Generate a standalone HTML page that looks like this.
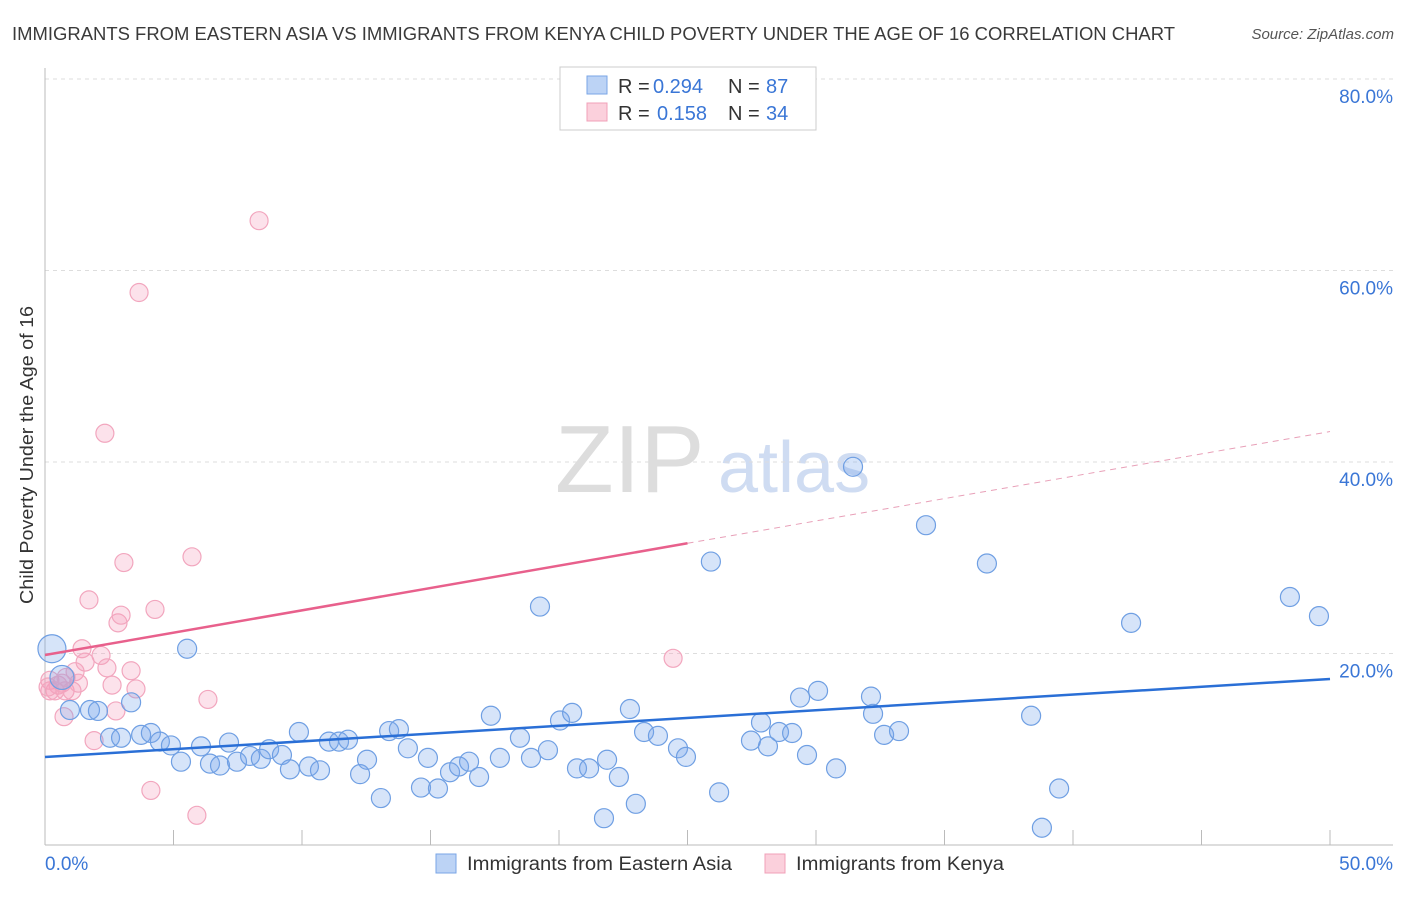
<!DOCTYPE html>
<html><head><meta charset="utf-8"><style>
body{margin:0;background:#fff;font-family:"Liberation Sans",sans-serif;}
svg text{font-family:"Liberation Sans",sans-serif;}
</style></head><body>
<svg width="1406" height="892" xmlns="http://www.w3.org/2000/svg" id="chart">
<text x="12" y="40" font-size="18" fill="#3a3a3a" textLength="1163" lengthAdjust="spacingAndGlyphs">IMMIGRANTS FROM EASTERN ASIA VS IMMIGRANTS FROM KENYA CHILD POVERTY UNDER THE AGE OF 16 CORRELATION CHART</text>
<text x="1394" y="39" font-size="15" fill="#555" text-anchor="end" font-style="italic">Source: ZipAtlas.com</text>
<text x="33" y="455" font-size="18" fill="#333" text-anchor="middle" textLength="298" lengthAdjust="spacingAndGlyphs" transform="rotate(-90 33 455)">Child Poverty Under the Age of 16</text>
<text x="555" y="492" font-size="96" fill="#ddd" font-family="Liberation Serif">ZIP</text>
<text x="718" y="492" font-size="72" fill="#cfdcf2">atlas</text>
<g id="grid"></g><g id="pts"></g><g id="lines"></g>
<g>
<rect x="560" y="67" width="256" height="63" fill="#fff" stroke="#ccc"/>
<rect x="587" y="76" width="20" height="18" fill="#bcd3f5" stroke="#7aa6e6"/>
<rect x="587" y="103" width="20" height="18" fill="#fbd0dc" stroke="#f0a0b8"/>
<text x="618" y="93" font-size="20" fill="#333">R = <tspan x="653" fill="#3a76d6">0.294</tspan></text>
<text x="728" y="93" font-size="20" fill="#333">N = <tspan x="766" fill="#3a76d6">87</tspan></text>
<text x="618" y="120" font-size="20" fill="#333">R = <tspan x="657" fill="#3a76d6">0.158</tspan></text>
<text x="728" y="120" font-size="20" fill="#333">N = <tspan x="766" fill="#3a76d6">34</tspan></text>
</g>
<g>
<rect x="436" y="854" width="20" height="19" fill="#bcd3f5" stroke="#7aa6e6"/>
<text x="467" y="870" font-size="19" fill="#333" textLength="265" lengthAdjust="spacingAndGlyphs">Immigrants from Eastern Asia</text>
<rect x="765" y="854" width="20" height="19" fill="#fbd0dc" stroke="#f0a0b8"/>
<text x="796" y="870" font-size="19" fill="#333" textLength="208" lengthAdjust="spacingAndGlyphs">Immigrants from Kenya</text>
</g>
</svg>
<script>
const yTicks=[20,40,60,80];
const xTickLabels=["0.0%","50.0%"];
const blueX=[0.27,0.66,0.97,1.75,2.06,2.53,2.96,3.35,3.74,4.12,4.47,4.90,5.29,5.53,6.07,6.42,6.81,7.16,7.47,7.98,8.40,8.72,9.22,9.53,9.88,10.27,10.70,11.05,11.44,11.79,12.26,12.53,13.07,13.39,13.77,14.12,14.63,14.90,15.29,15.76,16.11,16.50,16.89,17.35,17.70,18.48,18.91,19.26,19.57,20.04,20.51,20.70,21.17,21.75,21.87,22.33,22.76,22.99,23.31,23.85,24.63,24.94,25.91,26.23,27.47,27.86,28.13,28.56,29.07,29.38,29.65,30.08,30.78,31.44,32.14,32.22,32.65,33.23,34.28,36.65,38.37,38.79,39.46,42.26,48.44,49.57];
const blueY=[20.5,17.5,14.1,14.1,14.0,11.2,11.2,14.9,11.5,11.7,10.8,10.4,8.7,20.5,10.3,8.5,8.3,10.7,8.7,9.3,9.0,10.0,9.4,7.9,11.8,8.2,7.8,10.8,10.8,11.0,7.4,8.9,4.9,11.9,12.1,10.1,6.0,9.1,5.9,7.6,8.2,8.7,7.1,13.5,9.1,11.2,9.1,24.9,9.9,13.0,13.8,8.0,8.0,2.8,8.9,7.1,14.2,4.3,11.8,11.4,10.1,9.2,29.6,5.5,10.9,12.8,10.3,11.8,11.7,15.4,9.4,16.1,8.0,39.5,15.5,13.7,11.5,11.9,33.4,29.4,13.5,1.8,5.9,23.2,25.9,23.9];
const pinkX=[0.19,0.39,0.51,0.66,0.78,0.74,1.05,1.17,1.44,1.56,1.71,1.91,2.18,2.33,2.41,2.61,2.76,2.84,2.96,3.07,3.35,3.54,3.66,4.12,4.28,5.72,5.91,6.34,8.33,24.44,0.19,0.82,0.12,1.30];
const pinkY=[17.2,16.1,16.7,16.9,16.1,13.4,16.1,18.1,20.5,19.1,25.6,10.9,19.8,43.0,18.5,16.7,14.0,23.2,24.0,29.5,18.2,16.3,57.7,5.7,24.6,30.1,3.1,15.2,65.2,19.5,16.1,17.5,16.5,16.9];
const blueLine=[9.19,17.34];
const pinkLine=[19.84,43.18];
const pinkSolidEnd=25.0;
const NS="http://www.w3.org/2000/svg";
const X=v=>45+v*25.7, Y=v=>845-v*9.575;
function mk(t,a,p){const e=document.createElementNS(NS,t);for(const k in a)e.setAttribute(k,a[k]);p.appendChild(e);return e;}
const g=document.getElementById('grid'),pts=document.getElementById('pts'),ln=document.getElementById('lines');
yTicks.forEach(t=>{
 const l=mk('line',{x1:45,x2:1393,y1:Y(t),y2:Y(t),stroke:'#ddd','stroke-dasharray':'4,4'},g);
 
 
 const tx=mk('text',{x:1393,y:Y(t)+24,'font-size':19,fill:'#3a76d6','text-anchor':'end'},g);tx.textContent=t.toFixed(1)+'%';
 
 
});
const ax=mk('line',{x1:45,x2:1393,y1:845,y2:845,stroke:'#bbb'},g);


const ay=mk('line',{x1:45,x2:45,y1:68,y2:845,stroke:'#bbb'},g);


for(let i=5;i<=50;i+=5){const t=mk('line',{x1:X(i),x2:X(i),y1:830,y2:845,stroke:'#bbb'},g);
 
 }
[[0,'start'],[50,'end']].forEach((d,i)=>{const t=mk('text',{x:i?1393:45,y:870,'font-size':19,fill:'#3a76d6','text-anchor':d[1]},g);t.textContent=xTickLabels[i];
 
 });
pinkX.forEach((x,i)=>{const c=mk('circle',{cx:X(x),cy:Y(pinkY[i]),r:9,fill:'rgba(245,160,190,0.3)',stroke:'#f2a6be','stroke-width':1.2},pts);
 
 });
blueX.forEach((x,i)=>{const r=i==0?14:(i==1?12:9.5);const c=mk('circle',{cx:X(x),cy:Y(blueY[i]),r:r,fill:'rgba(120,165,235,0.3)',stroke:'#6f9fe3','stroke-width':1.2},pts);
 
 });
const bl=mk('line',{x1:X(0),y1:Y(blueLine[0]),x2:X(50),y2:Y(blueLine[1]),stroke:'#2a6fd6','stroke-width':2.5},ln);


const py=x=>pinkLine[0]+(pinkLine[1]-pinkLine[0])*x/50;
const pl=mk('line',{x1:X(0),y1:Y(pinkLine[0]),x2:X(pinkSolidEnd),y2:Y(py(pinkSolidEnd)),stroke:'#e8608c','stroke-width':2.5},ln);


const pd=mk('line',{x1:X(pinkSolidEnd),y1:Y(py(pinkSolidEnd)),x2:X(50),y2:Y(pinkLine[1]),stroke:'#e8a0b8','stroke-width':1,'stroke-dasharray':'6,5'},ln);


</script>
</body></html>
